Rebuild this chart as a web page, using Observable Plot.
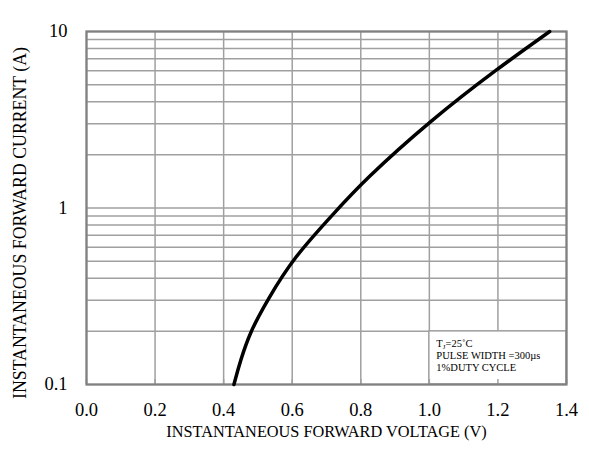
<!DOCTYPE html>
<html>
<head>
<meta charset="utf-8">
<script src="https://cdn.jsdelivr.net/npm/d3@7"></script>
<script src="https://cdn.jsdelivr.net/npm/@observablehq/plot@0.6"></script>
<style>
  html, body { margin: 0; padding: 0; background: #fff; }
</style>
</head>
<body>
<div id="chart"></div>
<script>
// Forward characteristic
const voltage = [0.430, 0.449, 0.478, 0.527, 0.605, 0.721, 0.809, 1.003, 1.198, 1.351];
const current = [0.1, 0.137, 0.2, 0.30, 0.527, 0.93, 1.43, 3.13, 6.15, 10];

const xTicks = [0, 0.2, 0.4, 0.6, 0.8, 1.0, 1.2, 1.4];
const yTicks = [0.1, 1, 10];
const yGrid = [0.1, 0.2, 0.3, 0.4, 0.5, 0.6, 0.7, 0.8, 0.9, 1, 2, 3, 4, 5, 6, 7, 8, 9, 10];

const xLabel = "INSTANTANEOUS FORWARD VOLTAGE (V)";
const yLabel = "INSTANTANEOUS FORWARD CURRENT (A)";
const noteLines = ["TJ=25˚C", "PULSE WIDTH =300µs", "1%DUTY CYCLE"];
const noteBox = {x1: 1.0, x2: 1.4, y1: 0.1, y2: 0.2};

const data = voltage.map((v, i) => ({v, i: current[i]}));

const gridColor = "#a0a0a0";
const frameColor = "#808080";
const serif = "'Liberation Serif', 'Times New Roman', serif";

const chart = Plot.plot({
  width: 589,
  height: 451,
  marginLeft: 86,
  marginRight: 23,
  marginTop: 31,
  marginBottom: 67,
  style: {fontFamily: serif, color: "#000", background: "#fff"},
  x: {domain: [0, 1.4]},
  y: {type: "log", domain: [0.1, 10]},
  marks: [
    Plot.ruleY(yGrid, {stroke: gridColor, strokeWidth: 1.5}),
    Plot.ruleX(xTicks, {stroke: gridColor, strokeWidth: 1.5}),
    Plot.rect([noteBox], {x1: "x1", x2: "x2", y1: "y1", y2: "y2", fill: "white", stroke: gridColor, strokeWidth: 1.5}),
    Plot.axisX({ticks: xTicks, tickSize: -5, tickFormat: () => "", stroke: gridColor, strokeWidth: 1.5, label: null}),
    Plot.frame({stroke: frameColor, strokeWidth: 2.2}),
    Plot.axisX({ticks: xTicks, tickFormat: d3.format(".1f"), tickSize: 0, tickPadding: 18, fontSize: 18.5, label: null}),
    Plot.axisY({ticks: yTicks, tickFormat: d => String(d), tickSize: 0, tickPadding: 19, fontSize: 18.5, label: null}),
    Plot.text([xLabel], {text: d => d, frameAnchor: "bottom", lineAnchor: "middle", dy: 47, fontSize: 16.3, fill: "#000"}),
    Plot.text([yLabel], {text: d => d, frameAnchor: "left", textAnchor: "middle", lineAnchor: "middle", rotate: -90, dx: -66, dy: 15, fontSize: 17.8, fill: "#000"}),
    Plot.line(data, {x: "v", y: "i", curve: "basis", stroke: "#000", strokeWidth: 3.5}),
    Plot.text([noteLines.join("\n")], {x: noteBox.x1, y: noteBox.y2, text: d => d, frameAnchor: "top-left",
      textAnchor: "start", lineAnchor: "top", dx: 7, dy: 7, fontSize: 10.5, lineHeight: 1.15, fill: "#000"})
  ]
});

// subscript J in the note
d3.select(chart).selectAll("tspan").each(function() {
  const t = d3.select(this);
  if (t.text() === noteLines[0]) {
    t.text("T");
    const parent = this.parentNode;
    const next = this.nextSibling;
    const sub = document.createElementNS("http://www.w3.org/2000/svg", "tspan");
    sub.setAttribute("font-size", "7");
    sub.setAttribute("dy", "2");
    sub.textContent = "J";
    const rest = document.createElementNS("http://www.w3.org/2000/svg", "tspan");
    rest.setAttribute("dy", "-2");
    rest.textContent = noteLines[0].slice(2);
    parent.insertBefore(sub, next);
    parent.insertBefore(rest, next);
  }
});

document.getElementById("chart").appendChild(chart);
</script>
</body>
</html>
